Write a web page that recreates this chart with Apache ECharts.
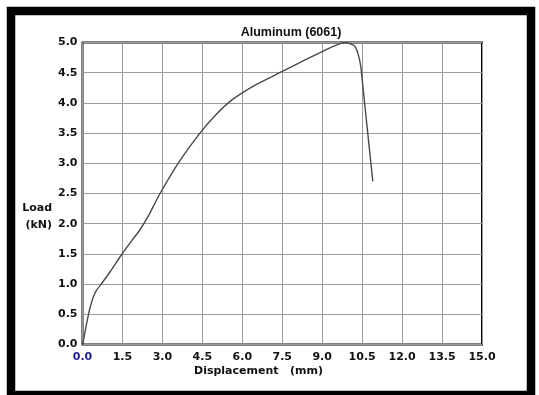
<!DOCTYPE html>
<html>
<head>
<meta charset="utf-8">
<script src="https://cdn.jsdelivr.net/npm/echarts@6/dist/echarts.min.js"></script>
<style>
html,body{margin:0;padding:0;background:#fff;}
#c{width:539px;height:395px;}
</style>
</head>
<body>
<div id="c"></div>
<script>
var displacement = [0, 0.03, 0.13, 0.26, 0.41, 0.53, 0.72, 1.03, 1.47, 1.85, 2.16, 2.5, 2.91, 3.59, 4.41, 5.0, 5.61, 6.5, 7.5, 8.3, 9.0, 9.55, 9.86, 10.11, 10.24, 10.36, 10.45, 10.49, 10.9];
var load = [0, 0.05, 0.29, 0.57, 0.79, 0.9, 1.01, 1.2, 1.49, 1.72, 1.9, 2.15, 2.5, 3.0, 3.5, 3.8, 4.05, 4.3, 4.52, 4.7, 4.85, 4.96, 5.0, 4.97, 4.93, 4.79, 4.6, 4.43, 2.7];
var xTicks = [0.0, 1.5, 3.0, 4.5, 6.0, 7.5, 9.0, 10.5, 12.0, 13.5, 15.0];
var yTicks = [0.0, 0.5, 1.0, 1.5, 2.0, 2.5, 3.0, 3.5, 4.0, 4.5, 5.0];
var title = 'Aluminum (6061)';
var xName = 'Displacement   (mm)';
var yName = 'Load\n(kN)';

var pts = displacement.map(function (d, i) { return [d, load[i]]; });
var chart = echarts.init(document.getElementById('c'), null, {renderer: 'canvas'});
var lab = {fontFamily: 'DejaVu Sans', fontWeight: 'bold', fontSize: 11, color: '#111'};
chart.setOption({
  backgroundColor: '#fff',
  animation: false,
  title: {
    text: title, left: 286, top: 21, textAlign: 'center',
    textStyle: {fontFamily: 'Liberation Sans', fontWeight: 'bold', fontSize: 12.5, color: '#111'}
  },
  grid: {left: 82.5, top: 42.5, right: 57, bottom: 50.5, show: true, borderColor: '#000', borderWidth: 2, backgroundColor: 'transparent'},
  xAxis: {
    type: 'value', min: xTicks[0], max: xTicks[xTicks.length - 1], interval: xTicks[1] - xTicks[0],
    axisLine: {show: false}, axisTick: {show: false},
    splitLine: {show: true, lineStyle: {color: '#9a9a9a', width: 1}},
    axisLabel: Object.assign({}, lab, {
      margin: 7,
      formatter: function (v, i) { return i === 0 ? '{b|' + v.toFixed(1) + '}' : v.toFixed(1); },
      rich: {b: {fontFamily: 'DejaVu Sans', fontWeight: 'bold', fontSize: 11, color: '#1c1c8e'}}
    })
  },
  yAxis: {
    type: 'value', min: yTicks[0], max: yTicks[yTicks.length - 1], interval: yTicks[1] - yTicks[0],
    axisLine: {show: false}, axisTick: {show: false},
    splitLine: {show: true, lineStyle: {color: '#9a9a9a', width: 1}},
    axisLabel: Object.assign({}, lab, {
      margin: 5,
      formatter: function (v) { return v.toFixed(1); }
    })
  },
  graphic: [
    {type: 'rect', shape: {x: 11, y: 11, width: 520, height: 384}, style: {fill: 'none', stroke: '#000', lineWidth: 8.5}, z: 100},
    {type: 'text', left: 194, top: 366, style: {text: xName, font: 'bold 11px "DejaVu Sans"', fill: '#111'}},
    {type: 'text', x: 52, y: 200, style: {text: yName, font: 'bold 11px "DejaVu Sans"', fill: '#111', align: 'right', lineHeight: 17}}
  ],
  series: [{
    type: 'line', data: pts, showSymbol: false, smooth: 0.2,
    lineStyle: {color: '#4a4a4a', width: 1.4}
  }]
});
</script>
</body>
</html>
